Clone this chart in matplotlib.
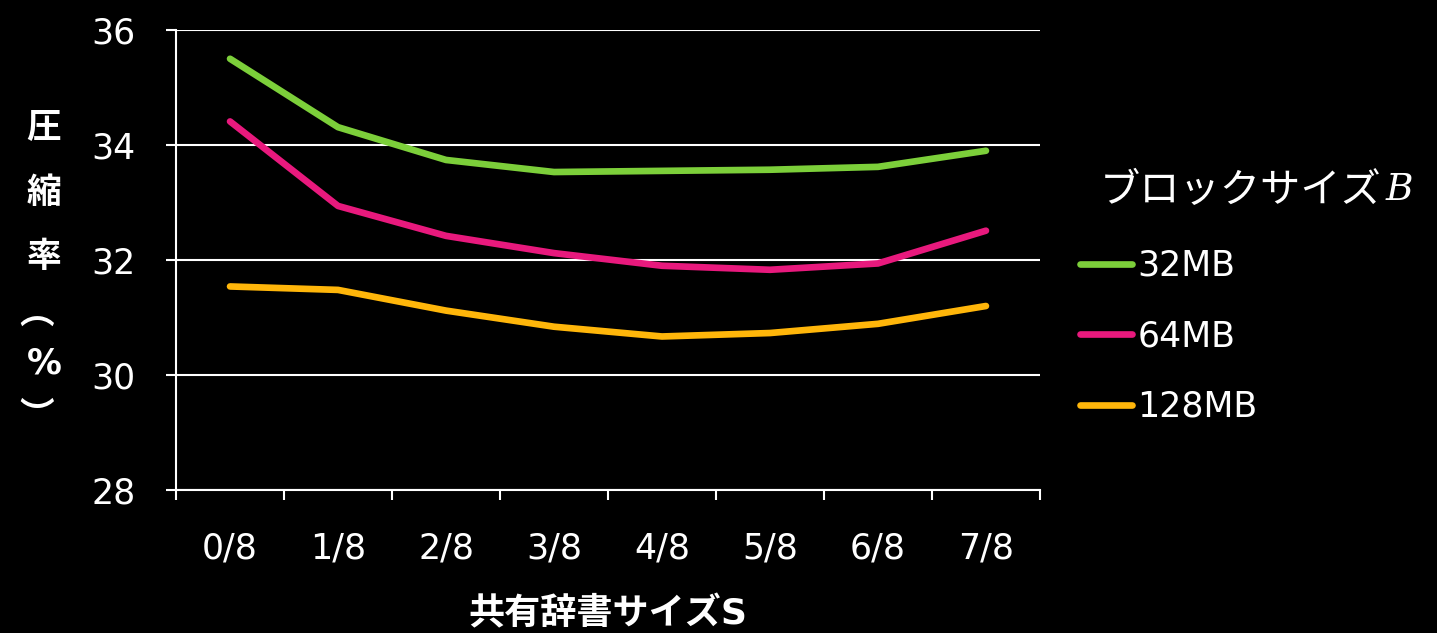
import numpy as np
import matplotlib.pyplot as plt

plt.rcParams["font.family"] = ["DejaVu Sans", "Noto Sans CJK JP"]
plt.rcParams["mathtext.fontset"] = "dejavuserif"

# データ
categories = ["0/8", "1/8", "2/8", "3/8", "4/8", "5/8", "6/8", "7/8"]
series_names = ["32MB", "64MB", "128MB"]
vals_32 = [35.50, 34.31, 33.74, 33.53, 33.55, 33.57, 33.62, 33.90]
vals_64 = [34.41, 32.94, 32.42, 32.12, 31.90, 31.83, 31.94, 32.51]
vals_128 = [31.54, 31.48, 31.12, 30.84, 30.67, 30.73, 30.89, 31.20]
colors = ["#7ccf3a", "#e8197d", "#ffb60a"]
yticks = [28, 30, 32, 34, 36]

W, H = 1437, 633
fig = plt.figure(figsize=(W / 100, H / 100), dpi=100, facecolor="black")
ax = fig.add_axes([0.1225, 0.2259, 0.6012, 0.7267], facecolor="black")

x = np.arange(len(categories))
for vals, name, c in zip([vals_32, vals_64, vals_128], series_names, colors):
    ax.plot(x, vals, color=c, lw=4.8, solid_capstyle="round",
            solid_joinstyle="round", label=name, zorder=3)

ax.set_xlim(-0.5, len(categories) - 0.5)
ax.set_ylim(28, 36)
ax.set_yticks(yticks)
ax.set_yticklabels([str(v) for v in yticks])
ax.set_xticks(x)
ax.set_xticklabels(categories)
ax.set_xticks(np.arange(-0.5, len(categories)), minor=True)

ax.grid(axis="y", color="white", lw=1.5, zorder=1)
for s in ["top", "right"]:
    ax.spines[s].set_visible(False)
for s in ["left", "bottom"]:
    ax.spines[s].set_color("white")
    ax.spines[s].set_linewidth(1.5)

ax.tick_params(axis="y", colors="white", labelsize=25, length=7, width=1.5, pad=22)
ax.tick_params(axis="x", which="major", colors="white", labelsize=25, length=0, pad=30)
ax.tick_params(axis="x", which="minor", colors="white", length=7, width=1.5)

ax.set_xlabel("共有辞書サイズS", color="white", fontsize=26, fontweight="bold",
              labelpad=22)

# 縦書きの軸ラベル（1文字ずつ配置）
cjk = "Noto Sans CJK JP"
for ch, ypx in zip("圧縮率", [127, 192, 257]):
    fig.text(44 / W, 1 - ypx / H, ch, color="white", fontsize=25,
             fontweight="bold", ha="center", va="center", family=cjk)
fig.text(37 / W, 1 - 314 / H, "︵", color="white", fontsize=25,
         fontweight="bold", ha="center", va="center", family=cjk)
fig.text(44 / W, 1 - 363 / H, "%", color="white", fontsize=25, fontweight="bold",
         ha="center", va="center")
fig.text(37 / W, 1 - 417 / H, "︶", color="white", fontsize=25,
         fontweight="bold", ha="center", va="center", family=cjk)

# 凡例
leg = ax.legend(loc="upper left", bbox_to_anchor=(1080 / W, 1 - 249 / H),
                bbox_transform=fig.transFigure, frameon=False,
                fontsize=25, handlelength=1.5, handletextpad=0.15,
                labelspacing=1.05, borderpad=0, borderaxespad=0)
for t in leg.get_texts():
    t.set_color("white")

title = fig.text(1100 / W, 1 - 190 / H, "ブロックサイズ", color="white",
                 fontsize=29, ha="left", va="center", family=cjk)
fig.canvas.draw()
bb = title.get_window_extent()
fig.text(bb.x1 / W + 0.002, 1 - 190 / H, "$B$", color="white", fontsize=27,
         ha="left", va="center")

fig.savefig("out.png", dpi=100, facecolor="black")
